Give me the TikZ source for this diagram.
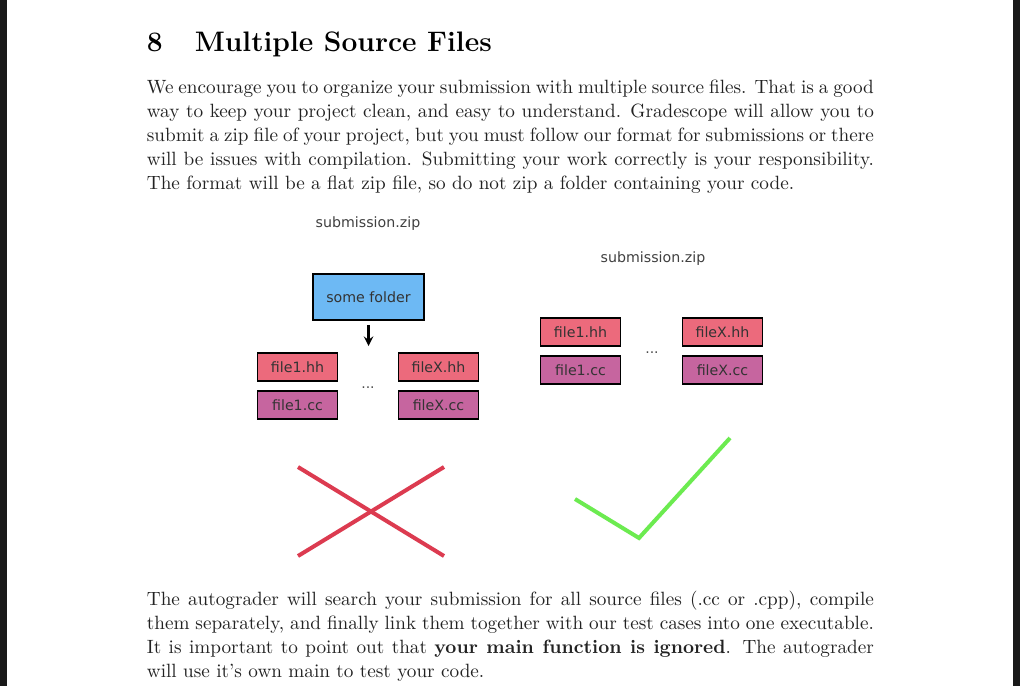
\documentclass[tikz,border=0pt]{standalone}
\usepackage{fontspec}
\newfontfamily\boxfont{DejaVu Sans}
\usetikzlibrary{arrows, positioning}
\definecolor{folderblue}{HTML}{6DB9F4}
\definecolor{headerred}{HTML}{EC6A7C}
\definecolor{sourcepink}{HTML}{C6659F}
\definecolor{crossred}{HTML}{DC3B50}
\definecolor{tickgreen}{HTML}{6CEB50}
\definecolor{inkgray}{HTML}{222222}
\newcommand{\boxwidth}{40pt}
\newcommand{\boxheight}{14.2pt}
\tikzstyle{bodytext} = [% justified paragraph
  anchor=north west,
  inner sep=0pt,
  text width=363.5pt,
  align=justify,
  text=inkgray,
  font=\fontsize{9.6}{12}\selectfont
  ]
\tikzstyle{filebox} = [% common file box
  rectangle,
  minimum width=\boxwidth,
  minimum height=\boxheight,
  inner sep=0pt,
  text centered,
  draw=black,
  line width=0.8pt,
  text=black!80,
  font=\boxfont\fontsize{7.1}{8}\selectfont
  ]
\tikzstyle{hhbox} = [% header file node
  filebox,
  fill=headerred
  ]
\tikzstyle{ccbox} = [% source file node
  filebox,
  fill=sourcepink
  ]
\tikzstyle{folderbox} = [% folder node
  filebox,
  minimum width=55.5pt,
  minimum height=23pt,
  fill=folderblue
  ]
\tikzstyle{ziplabel} = [% archive name
  inner sep=0pt,
  text=black!75,
  font=\boxfont\fontsize{7.1}{8}\selectfont
  ]
\tikzstyle{dots} = [% gap between the columns
  inner sep=0pt,
  text=black!70,
  font=\boxfont\fontsize{7}{8}\selectfont
  ]
\tikzstyle{arrow} = [% arrow format
  line width=1.1pt,
  ->,
  >=stealth
  ]
\tikzstyle{markstroke} = [% big cross and tick
  line width=2pt
  ]

\begin{document}
\begin{tikzpicture}[x=0.5pt,y=-0.5pt,node distance=4pt]
\useasboundingbox (0,0) rectangle (1020,686);
\fill[white] (0,0) rectangle (1020,686);
\fill[black!90] (0,0) rectangle (7,686);
\fill[black!90] (1013,0) rectangle (1020,686);

%%% Heading and text
\node[anchor=base west, inner sep=0pt, font=\fontsize{14.1}{17}\bfseries\selectfont] (heading) at (146.5,51) {8\hspace{16pt}Multiple Source Files};
\node[bodytext] (intro) at (146.5,80) {We encourage you to organize your submission with multiple source files. That is a good\linebreak
way to keep your project clean, and easy to understand. Gradescope will allow you to\linebreak
submit a zip file of your project, but you must follow our format for submissions or there\linebreak
will be issues with compilation. Submitting your work correctly is your responsibility.\linebreak
The format will be a flat zip file, so do not zip a folder containing your code.};
\node[bodytext] (outro) at (146.5,591) {The autograder will search your submission for all source files (.cc or .cpp), compile\linebreak
them separately, and finally link them together with our test cases into one executable.\linebreak
It is important to point out that \textbf{your main function is ignored}. The autograder\linebreak
will use it's own main to test your code.};

%%% Left layout
\node[ziplabel] (zipleft) at (368,224) {submission.zip};
\node[folderbox] (folder) at (368.5,297) {some folder};
\node[hhbox] (hhleft) at (297.5,367) {file1.hh};
\node[ccbox] (ccleft) [below=of hhleft] {file1.cc};
\node[hhbox] (hhleftx) at (438.5,367) {fileX.hh};
\node[ccbox] (ccleftx) [below=of hhleftx] {fileX.cc};
\node[dots] (dotsleft) at (368,388) {...};
\coordinate (arrowend) at (368.5,346);
\draw[arrow, shorten <=2pt] (folder) -- (arrowend);

%%% Right layout
\node[ziplabel] (zipright) at (653,259) {submission.zip};
\node[hhbox] (hhright) at (580.5,332) {file1.hh};
\node[ccbox] (ccright) [below=of hhright] {file1.cc};
\node[hhbox] (hhrightx) at (722.5,332) {fileX.hh};
\node[ccbox] (ccrightx) [below=of hhrightx] {fileX.cc};
\node[dots] (dotsright) at (652,353) {...};

%%% Cross and tick
\draw[markstroke, crossred] (298,467) -- (444,556);
\draw[markstroke, crossred] (298,556) -- (444,467);
\draw[markstroke, tickgreen] (575,499) -- (639,538) -- (730,438);

\end{tikzpicture}
\end{document}
